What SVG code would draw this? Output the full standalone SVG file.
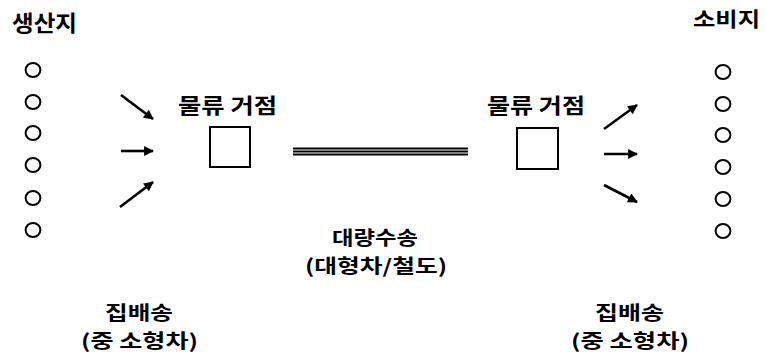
<svg xmlns="http://www.w3.org/2000/svg" width="766" height="360" viewBox="0 0 766 360">
<defs>
<style>
text{font-family:"Noto Sans CJK KR","Liberation Sans",sans-serif;font-weight:bold;fill:#000}
.t22{font-size:22px}
.t20{font-size:20px}
.t21{font-size:21px}
.t19{font-size:19px}
.c{fill:none;stroke:#000;stroke-width:2}
.box{fill:#fff;stroke:#000;stroke-width:2}
.arr{stroke:#000;stroke-width:2.6;fill:none;marker-end:url(#ah)}
.rail{stroke:#000;stroke-width:2;fill:none}
</style>
<marker id="ah" viewBox="0 0 10 10" refX="9" refY="5" markerWidth="4.4" markerHeight="3.8" orient="auto" markerUnits="strokeWidth">
<path d="M0,0 L10,5 L0,10 z" fill="#000"/>
</marker>
</defs>
<rect width="766" height="360" fill="#fff"/>

<g id="origin-label"><text class="t22" x="12" y="31" textLength="65" lengthAdjust="spacingAndGlyphs">생산지</text></g>
<g id="dest-label"><text class="t20" x="693" y="27" textLength="67" lengthAdjust="spacingAndGlyphs">소비지</text></g>

<g id="origins">
<ellipse class="c" cx="33" cy="70" rx="7.4" ry="7"/>
<ellipse class="c" cx="33" cy="102" rx="7.4" ry="7"/>
<ellipse class="c" cx="33" cy="133" rx="7.4" ry="7"/>
<ellipse class="c" cx="33" cy="165" rx="7.4" ry="7"/>
<ellipse class="c" cx="33" cy="198" rx="7.4" ry="7"/>
<ellipse class="c" cx="33" cy="230" rx="7.4" ry="7"/>
</g>

<g id="destinations">
<ellipse class="c" cx="723" cy="72" rx="7.4" ry="7"/>
<ellipse class="c" cx="723" cy="104" rx="7.4" ry="7"/>
<ellipse class="c" cx="723" cy="135" rx="7.4" ry="7"/>
<ellipse class="c" cx="723" cy="167" rx="7.4" ry="7"/>
<ellipse class="c" cx="723" cy="199" rx="7.4" ry="7"/>
<ellipse class="c" cx="723" cy="231" rx="7.4" ry="7"/>
</g>

<g id="hub-left">
<text class="t21" x="178" y="113" textLength="99" lengthAdjust="spacingAndGlyphs">물류 거점</text>
<rect class="box" x="210" y="127" width="40" height="40"/>
</g>

<g id="hub-right">
<text class="t21" x="487" y="113" textLength="98" lengthAdjust="spacingAndGlyphs">물류 거점</text>
<rect class="box" x="517" y="128" width="41" height="41"/>
</g>

<g id="connectors">
<line class="arr" x1="121" y1="95" x2="153" y2="119"/>
<line class="arr" x1="121" y1="151" x2="153" y2="151"/>
<line class="arr" x1="120" y1="207" x2="153" y2="182"/>
<line class="arr" x1="604" y1="129" x2="637" y2="105"/>
<line class="arr" x1="604" y1="154" x2="637" y2="154"/>
<line class="arr" x1="604" y1="185" x2="637" y2="202"/>
<line class="rail" x1="293" y1="148.5" x2="468" y2="148.5"/>
<line class="rail" x1="293" y1="151.5" x2="468" y2="151.5"/>
<line class="rail" x1="293" y1="154.5" x2="468" y2="154.5"/>
</g>

<g id="bulk-label">
<text class="t19" x="332" y="245" textLength="86" lengthAdjust="spacingAndGlyphs">대량수송</text>
<text class="t19" x="305" y="273" textLength="142" lengthAdjust="spacingAndGlyphs">(대형차/철도)</text>
</g>

<g id="collect-left">
<text class="t19" x="105" y="320" textLength="68" lengthAdjust="spacingAndGlyphs">집배송</text>
<text class="t19" x="81" y="348" textLength="117" lengthAdjust="spacingAndGlyphs">(중 소형차)</text>
</g>

<g id="collect-right">
<text class="t19" x="595" y="320" textLength="69" lengthAdjust="spacingAndGlyphs">집배송</text>
<text class="t19" x="571" y="348" textLength="118" lengthAdjust="spacingAndGlyphs">(중 소형차)</text>
</g>
</svg>
